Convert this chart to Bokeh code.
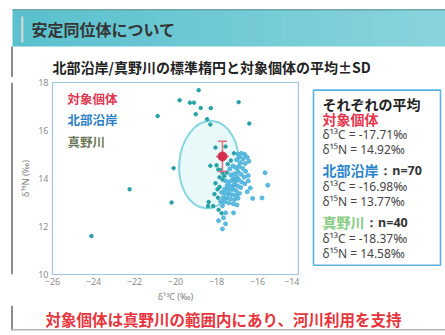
from bokeh.plotting import figure
from bokeh.models import ColumnDataSource, Label, FixedTicker, Range1d
from bokeh.layouts import column, row
from bokeh.embed import file_html
from bokeh.resources import INLINE

# ---- data -----------------------------------------------------------------
# 真野川 (n=40)
mano_c = [-18.87, -19.80, -19.30, -19.10, -16.92, -18.77, -18.28, -19.01, -20.87,
          -18.46, -18.30, -16.40, -20.09, -22.24, -20.19, -24.10,
          -18.05, -17.56, -18.30, -17.91, -17.71,
          -18.41, -18.38, -18.16, -17.93, -17.95, -18.05, -17.85, -17.80, -17.62,
          -17.45, -17.30, -17.15, -17.90, -17.85, -17.70, -17.50, -18.00, -17.75,
          -18.10]
mano_n = [17.68, 17.26, 17.16, 17.16, 17.18, 16.94, 16.93, 16.68, 16.60,
          16.47, 16.25, 16.29, 14.43, 13.55, 13.00, 11.60,
          15.29, 15.33, 14.53, 14.37, 14.24,
          12.85, 13.02, 12.85, 13.20, 13.55, 13.80, 14.05, 14.35, 14.10,
          14.60, 14.75, 15.05, 12.70, 13.65, 13.95, 14.25, 14.55, 12.55,
          13.35]

# 北部沿岸 (n=70)
coast_c = [-16.95, -16.78, -16.62, -16.50, -16.42, -16.60, -16.82, -17.02, -16.70, -16.88,
           -17.35, -17.20, -17.05, -16.90, -16.72, -16.58, -16.45, -16.95, -17.12, -17.30,
           -16.80, -16.65, -17.00, -17.18,
           -17.55, -17.40, -17.25, -17.08, -16.92, -16.78, -16.62, -17.48, -17.32, -17.15,
           -16.98, -16.82, -17.60, -17.42, -17.22, -17.05,
           -17.75, -17.58, -17.40, -17.22, -17.05, -16.88, -17.68, -17.50, -17.32, -17.12,
           -16.95, -17.80, -17.60, -17.40,
           -17.18, -17.00, -17.71, -17.56, -17.17, -17.66, -17.56, -17.90, -17.71,
           -15.63, -15.50, -15.78, -16.24, -16.35, -16.50, -16.45]
coast_n = [15.02, 15.05, 15.00, 14.88, 14.72, 14.62, 14.66, 14.78, 14.82, 14.90,
           14.40, 14.52, 14.45, 14.50, 14.42, 14.30, 14.12, 14.28, 14.20, 14.15,
           14.18, 14.05, 14.05, 14.00,
           13.90, 13.85, 13.92, 13.88, 13.95, 13.85, 13.78, 13.70, 13.68, 13.72,
           13.70, 13.62, 13.55, 13.52, 13.55, 13.50,
           13.42, 13.38, 13.35, 13.32, 13.30, 13.38, 13.20, 13.18, 13.15, 13.12,
           13.18, 13.05, 13.02, 12.98,
           12.95, 12.90, 12.86, 12.57, 12.57, 12.36, 12.11, 12.24, 11.90,
           14.24, 13.72, 13.19, 13.17, 13.60, 13.45, 13.90]

# 対象個体 mean ± SD
target_c = [-17.71]
target_n = [14.92]
target_sd_c = [0.32]
target_sd_n = [0.63]

# 真野川 standard ellipse (centre = group mean)
ellipse_c = [-18.37]
ellipse_n = [14.58]
ellipse_w = [2.9]
ellipse_h = [3.65]
ellipse_angle = [-0.08]

x_ticks = [-26, -24, -22, -20, -18, -16, -14]
y_ticks = [10, 12, 14, 16, 18]

summary_names = ["対象個体", "北部沿岸", "真野川"]
summary_counts = [None, "：n=70", "：n=40"]
summary_c = ["-17.71", "-16.98", "-18.37"]
summary_n = ["14.92", "13.77", "14.58"]

# ---- page geometry (pixels) -----------------------------------------------
W, H = 445, 335
TOP_H = 77          # header + title strip
MID_H = 228         # chart row
BOT_H = H - TOP_H - MID_H
STRIP_W = 13        # left margin strip carrying the slide border
CHART_W = 286
RIGHT_W = W - STRIP_W - CHART_W
FRAME_T, FRAME_B = 82, 274

JP = "Noto Sans CJK JP"
NUM = "Noto Sans"
BORDER = "#8d8d8d"


def canvas(w, h):
    """A bare figure whose frame is the whole canvas, in pixel units, y down."""
    f = figure(width=w, height=h, x_range=Range1d(0, w), y_range=Range1d(h, 0),
               x_axis_type=None, y_axis_type=None, min_border=0,
               output_backend="svg", toolbar_location=None,
               background_fill_color="white", border_fill_color="white")
    f.grid.visible = False
    f.outline_line_color = None
    return f


def label(f, x, y, text, size, color, bold=False, font=JP, align="left"):
    f.add_layout(Label(x=x, y=y, text=text, text_font=font,
                       text_font_style="bold" if bold else "normal",
                       text_font_size=size, text_color=color,
                       text_align=align, text_baseline="middle"))


# ---- header + title --------------------------------------------------------
top = canvas(W, TOP_H)
n_strip = 24
c0 = (0x5a, 0xc1, 0xce)
c1 = (0x88, 0xd4, 0xdd)
lefts, rights, cols = [], [], []
for i in range(n_strip):
    t = i / (n_strip - 1)
    cols.append("#%02x%02x%02x" % tuple(int(a + (b - a) * t) for a, b in zip(c0, c1)))
    lefts.append(12 + (W - 12) * i / n_strip)
    rights.append(12 + (W - 12) * (i + 1) / n_strip + 0.6)
top.quad(left=lefts, right=rights, top=[9] * n_strip, bottom=[46] * n_strip,
         fill_color=cols, line_color=None)
top.quad(left=[12], right=[W], top=[8.5], bottom=[10], fill_color="#6fa4ab",
         line_color=None)
top.quad(left=[20.5], right=[23], top=[16], bottom=[42], fill_color="#c9d3d4",
         line_color=None)
top.quad(left=[10.5], right=[12.5], top=[46], bottom=[TOP_H], fill_color=BORDER,
         line_color=None)
label(top, 31, 28, "安定同位体について", "16px", "#353535", bold=True)
label(top, 52, 66, "北部沿岸/真野川の標準楕円と対象個体の平均±SD", "14px",
      "#222222", bold=True)

# ---- left border strip ----------------------------------------------------
strip = canvas(STRIP_W, MID_H)
strip.quad(left=[10.5], right=[12.5], top=[0], bottom=[MID_H], fill_color=BORDER,
           line_color=None)

# ---- scatter chart ---------------------------------------------------------
p = figure(width=CHART_W, height=MID_H, x_range=(-26, -14), y_range=(10, 18),
           min_border_left=52 - STRIP_W, min_border_right=1,
           min_border_top=FRAME_T - TOP_H,
           min_border_bottom=TOP_H + MID_H - FRAME_B,
           output_backend="svg", toolbar_location=None,
           background_fill_color="white", border_fill_color="white")
p.grid.visible = False
p.outline_line_color = "#9ec6df"
p.outline_line_width = 1.2

for ax in (p.xaxis[0], p.yaxis[0]):
    ax.axis_line_color = None
    ax.major_tick_line_color = None
    ax.minor_tick_line_color = None
    ax.major_tick_out = 0
    ax.major_tick_in = 0
    ax.minor_tick_out = 0
    ax.minor_tick_in = 0
    ax.major_label_text_font_size = "9px"
    ax.major_label_text_color = "#8c8c8c"
    ax.major_label_text_font = NUM
    ax.axis_label_text_font_size = "9px"
    ax.axis_label_text_color = "#808080"
    ax.axis_label_text_font_style = "normal"
    ax.axis_label_text_font = NUM
p.xaxis.ticker = FixedTicker(ticks=x_ticks)
p.yaxis.ticker = FixedTicker(ticks=y_ticks)
p.xaxis.axis_label = "δ¹³C (‰)"
p.yaxis.axis_label = "δ¹⁵N (‰)"
p.xaxis.major_label_standoff = 3
p.yaxis.major_label_standoff = 4
p.xaxis.axis_label_standoff = 2
p.yaxis.axis_label_standoff = 3

p.ellipse(x=ellipse_c, y=ellipse_n, width=ellipse_w, height=ellipse_h,
          angle=ellipse_angle, fill_color="#e4f6f8", fill_alpha=0.8,
          line_color="#86d6df", line_width=2)

p.scatter(mano_c, mano_n, size=3.5, color="#25a2a8")
p.scatter(coast_c, coast_n, size=4, color="#4cb2dc", alpha=0.9)

err = ColumnDataSource(dict(
    x=target_c, y=target_n,
    x_lo=[c - s for c, s in zip(target_c, target_sd_c)],
    x_hi=[c + s for c, s in zip(target_c, target_sd_c)],
    y_lo=[n - s for n, s in zip(target_n, target_sd_n)],
    y_hi=[n + s for n, s in zip(target_n, target_sd_n)],
))
ecol = "#e0707f"
p.segment(x0="x", y0="y_lo", x1="x", y1="y_hi", source=err, line_color=ecol,
          line_width=1.5)
p.segment(x0="x_lo", y0="y", x1="x_hi", y1="y", source=err, line_color=ecol,
          line_width=1.5)
p.scatter("x", "y_hi", source=err, marker="dash", size=9, line_color=ecol,
          line_width=1.5)
p.scatter("x", "y_lo", source=err, marker="dash", size=9, line_color=ecol,
          line_width=1.5)
p.scatter("x", "y", source=err, size=9, color="#d3304c")

# in-plot group labels (screen offsets from the frame's lower-left corner)
fh = FRAME_B - FRAME_T
for text, col, yy in [("対象個体", "#e2354f", 16), ("北部沿岸", "#2b80c6", 37),
                      ("真野川", "#6e7a58", 59)]:
    p.add_layout(Label(x=15, y=fh - yy, x_units="screen", y_units="screen",
                       text=text, text_font=JP, text_font_style="bold",
                       text_font_size="12.5px", text_color=col,
                       text_baseline="middle"))

# ---- summary panel ---------------------------------------------------------
right = canvas(RIGHT_W, MID_H)
ox, oy = STRIP_W + CHART_W, TOP_H      # page offset of this panel
right.quad(left=[313 - ox], right=[440 - ox], top=[86 - oy], bottom=[294 - oy],
           fill_color="white", line_color="#58b2e2", line_width=1.6)
tx = 322 - ox
label(right, tx, 103 - oy, "それぞれの平均", "14px", "#1e1e1e", bold=True)
group_cols = ["#e6374f", "#2c84cc", "#84cc80"]
name_rows = [120, 181, 243]
for name, cnt, cm, nm, col, ry in zip(summary_names, summary_counts, summary_c,
                                      summary_n, group_cols, name_rows):
    y0 = ry - oy
    label(right, tx, y0, name, "14px", col, bold=True)
    if cnt:
        label(right, tx + 14.2 * len(name), y0, cnt, "12.5px", "#333333",
              bold=True, font=NUM)
    label(right, tx, y0 + 19, "δ¹³C = " + cm + "‰", "12px", "#454545", font=NUM)
    label(right, tx, y0 + 37, "δ¹⁵N = " + nm + "‰", "12px", "#454545", font=NUM)

# ---- conclusion line -------------------------------------------------------
bot = canvas(W, BOT_H)
by = TOP_H + MID_H
bot.quad(left=[10.5], right=[12.5], top=[0], bottom=[330 - by], fill_color=BORDER,
         line_color=None)
bot.quad(left=[10.5], right=[W], top=[328.5 - by], bottom=[330 - by],
         fill_color="#b4b4b4", line_color=None)
label(bot, 223, 318 - by, "対象個体は真野川の範囲内にあり、河川利用を支持", "15.5px",
      "#e8343c", bold=True, align="center")

page = column(top, row(strip, p, right), bot)
open("out.html", "w").write(file_html(page, INLINE))
